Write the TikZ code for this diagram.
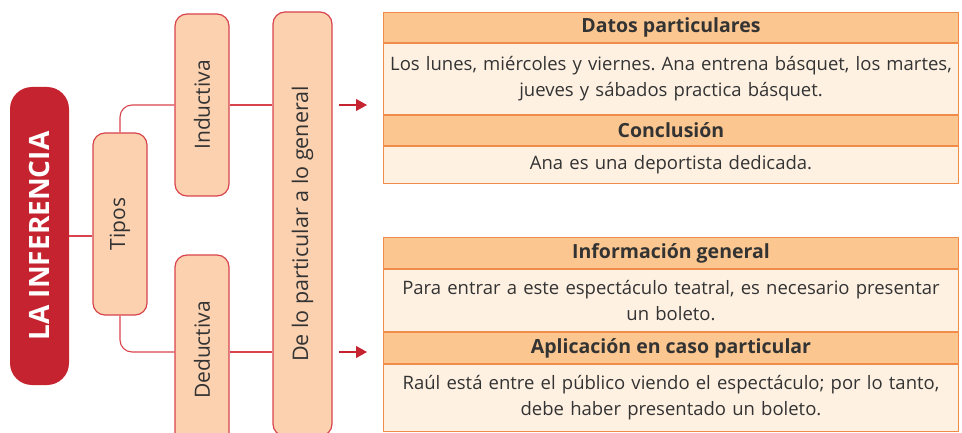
\documentclass[tikz,border=0pt]{standalone}
\usepackage{fontspec}
\setmainfont{Open Sans}
\usetikzlibrary{positioning,arrows.meta}
\frenchspacing

\definecolor{infred}{HTML}{C62330}
\definecolor{boxfill}{HTML}{FBD1B0}
\definecolor{boxline}{HTML}{D8434C}
\definecolor{hdrfill}{HTML}{FBC68F}
\definecolor{tblline}{HTML}{F08C4A}
\definecolor{cellfill}{HTML}{FEF1E2}
\definecolor{txtgray}{HTML}{333333}

\begin{document}
\begin{tikzpicture}[
				x=1pt,
				y=-1pt,
				line join=round,
				titlebox/.style={fill=infred, rounded corners=22pt, rotate=90,
					text=white, font=\fontsize{28}{30}\selectfont\bfseries,
					minimum height=59pt, inner sep=0pt},
				concept/.style={draw=boxline, fill=boxfill, line width=1.2pt,
					rounded corners=12pt, rotate=90, text=txtgray,
					font=\fontsize{21}{24}\selectfont, minimum height=54pt, inner sep=0pt},
				link/.style={draw=boxline, line width=1.1pt, rounded corners=12pt},
				pointer/.style={draw=infred, line width=1.1pt,
					-{Triangle[length=11pt,width=12pt]}},
				hdr/.style={draw=tblline, fill=hdrfill, line width=1pt,
					minimum width=575pt, inner sep=0pt, text=txtgray,
					font=\fontsize{19.5}{22}\selectfont\bfseries},
				cell/.style={draw=tblline, fill=cellfill, line width=1pt,
					minimum width=575pt, text width=570pt, align=center,
					inner sep=0pt, text=txtgray, font=\fontsize{18.5}{26}\selectfont}
			]

			\useasboundingbox (0,0) rectangle (962,433);
			\clip (0,0) rectangle (962,433);

			% Concept boxes
			\node[titlebox, minimum width=298pt] (inf) at (39.5,236) {LA INFERENCIA};
			\node[concept, minimum width=182pt] (tipos) at (120,224) {Tipos};
			\node[concept, minimum width=182pt] (induct) at (202,105) {Inductiva};
			\node[concept, minimum width=190pt] (deduct) at (202,350) {Deductiva};
			\node[concept, minimum width=424pt, minimum height=59pt, font=\fontsize{21.5}{24}\selectfont] (general) at (302.5,224) {De lo particular a lo general};

			% Links
			\draw[link, rounded corners=0pt] (inf.south) -- (inf.south -| tipos.north);
			\draw[link] (tipos.east) |- (induct.north);
			\draw[link] (tipos.west) |- ([yshift=-2pt]deduct.north);
			\draw[link, rounded corners=0pt] (induct.south) -- (induct.south -| general.north);
			\draw[link, rounded corners=0pt] ([yshift=-2pt]deduct.south) -- ([yshift=-2pt]deduct.south -| general.north);

			% Arrows
			\coordinate (upfrom) at (339,105);
			\coordinate (upto) at (367,105);
			\coordinate (downfrom) at (339,352);
			\coordinate (downto) at (367,352);
			\draw[pointer] (upfrom) -- (upto);
			\draw[pointer] (downfrom) -- (downto);

			% Inductive example
			\node[hdr, minimum height=30pt, anchor=north west] (datos) at (383,12) {Datos particulares};
			\node[cell, minimum height=71pt, below=0pt of datos] (datostxt) {Los lunes, miércoles y viernes. Ana entrena básquet, los martes,\\ jueves y sábados practica básquet.};
			\node[hdr, minimum height=30pt, below=0pt of datostxt] (concl) {Conclusión};
			\node[cell, minimum height=37pt, below=0pt of concl] (concltxt) {Ana es una deportista dedicada.};

			% Deductive example
			\node[hdr, minimum height=31pt, anchor=north west] (info) at (383,237) {Información general};
			\node[cell, minimum height=62pt, below=0pt of info] (infotxt) {Para entrar a este espectáculo teatral, es necesario presentar\\ un boleto.};
			\node[hdr, minimum height=31pt, below=0pt of infotxt] (aplic) {Aplicación en caso particular};
			\node[cell, minimum height=67pt, below=0pt of aplic] (aplictxt) {Raúl está entre el público viendo el espectáculo; por lo tanto,\\ debe haber presentado un boleto.};

		\end{tikzpicture}
\end{document}
